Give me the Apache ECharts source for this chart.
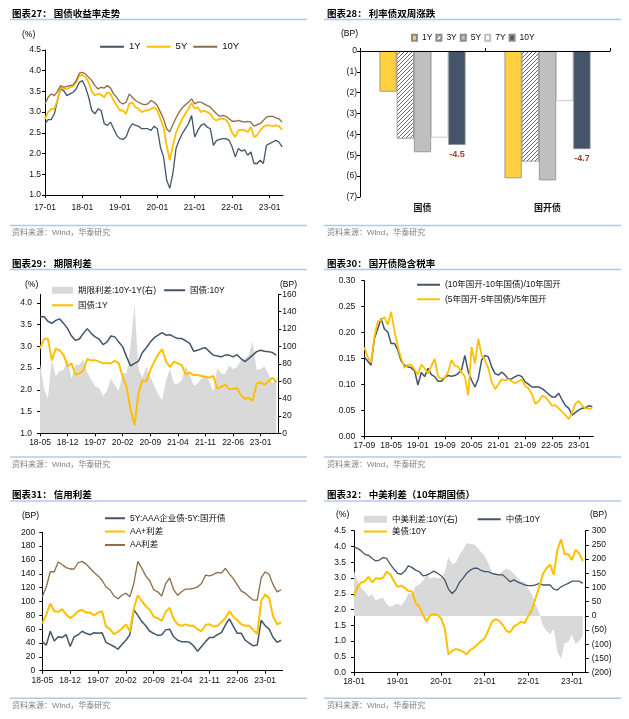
<!DOCTYPE html>
<html><head><meta charset="utf-8">
<script src="https://cdn.jsdelivr.net/npm/echarts@6/dist/echarts.min.js"></script>
<style>html,body{margin:0;padding:0;background:#fff}#c{width:629px;height:719px}</style>
</head><body><div id="c"></div>
<script>
// ---------- Panel 27: 国债收益率走势 (monthly from 2017-01) ----------
const p1XLabels = ['17-01','18-01','19-01','20-01','21-01','22-01','23-01'];
const p1_1Y = [2.72,2.82,2.82,2.96,3.28,3.56,3.52,3.40,3.44,3.48,
3.56,3.72,3.76,3.60,3.36,3.04,2.96,3.08,3.04,2.72,
2.68,2.76,2.60,2.44,2.36,2.34,2.40,2.60,2.72,2.68,
2.66,2.60,2.60,2.60,2.56,2.66,2.60,2.16,1.92,1.36,
1.16,1.52,2.12,2.32,2.48,2.60,2.72,2.92,2.40,2.56,
2.68,2.72,2.64,2.60,2.20,2.32,2.34,2.36,2.36,2.32,
2.16,1.92,2.12,2.06,2.09,1.96,2.04,1.76,1.76,1.84,
1.76,2.20,2.24,2.28,2.32,2.28,2.16];
const p1_5Y = [2.84,3.00,3.08,3.08,3.30,3.60,3.56,3.56,3.60,3.62,
3.72,3.88,3.90,3.84,3.72,3.50,3.40,3.44,3.42,3.36,
3.48,3.44,3.28,3.16,3.04,3.04,2.96,3.20,3.24,3.12,
3.08,3.00,3.04,3.04,3.08,3.12,3.04,2.84,2.64,2.20,
1.84,2.20,2.50,2.68,2.84,2.96,3.08,3.22,3.08,3.12,
3.00,3.04,3.00,2.96,2.84,2.80,2.84,2.84,2.82,2.70,
2.50,2.40,2.56,2.58,2.56,2.52,2.64,2.40,2.44,2.56,
2.64,2.68,2.68,2.66,2.68,2.66,2.58];
const p1_10Y = [3.20,3.36,3.44,3.40,3.50,3.64,3.60,3.62,3.64,3.66,
3.76,3.94,3.96,3.92,3.84,3.76,3.64,3.56,3.60,3.58,
3.64,3.58,3.44,3.36,3.24,3.20,3.24,3.44,3.36,3.28,
3.24,3.20,3.18,3.20,3.28,3.24,3.16,3.00,2.84,2.60,
2.52,2.70,2.86,3.00,3.10,3.18,3.24,3.32,3.20,3.24,
3.24,3.20,3.16,3.12,3.04,2.96,2.90,2.92,2.90,2.84,
2.78,2.78,2.80,2.78,2.76,2.78,2.76,2.66,2.70,2.72,
2.80,2.88,2.90,2.90,2.86,2.84,2.76];

// ---------- Panel 28: 利率债双周涨跌 ----------
const p2Cats = ['国债','国开债'];
const p2_1Y = [-1.95,-6.1];
const p2_3Y = [-4.2,-5.3];
const p2_5Y = [-4.85,-6.2];
const p2_7Y = [-4.15,-2.4];
const p2_10Y = [-4.5,-4.7];

// ---------- Panel 29: 期限利差 (monthly from 2018-05) ----------
const p3XLabels = ['18-05','18-12','19-07','20-02','20-09','21-04','21-11','22-06','23-01'];
const p3_10Y = [3.68,3.69,3.58,3.53,3.60,3.63,3.53,3.41,3.24,3.14,
3.17,3.30,3.41,3.30,3.22,3.17,3.04,3.10,3.24,3.22,
3.10,2.99,2.76,2.55,2.61,2.66,2.86,2.97,3.10,3.20,
3.26,3.32,3.26,3.27,3.22,3.18,3.18,3.13,3.07,2.89,
2.91,2.95,2.97,2.88,2.80,2.78,2.76,2.80,2.80,2.76,
2.81,2.72,2.65,2.72,2.80,2.88,2.91,2.89,2.88,2.86,2.80];
const p3_1Y = [2.95,3.17,3.18,2.68,2.95,2.91,2.80,2.55,2.61,2.35,
2.38,2.45,2.71,2.68,2.68,2.65,2.61,2.61,2.61,2.67,
2.61,2.30,2.07,1.54,1.19,1.92,2.22,2.20,2.45,2.65,
2.81,2.94,2.65,2.53,2.65,2.61,2.57,2.35,2.40,2.34,
2.34,2.32,2.30,2.28,2.32,2.03,2.07,2.12,2.02,2.02,
2.05,1.88,1.79,1.82,1.74,2.15,2.17,2.12,2.20,2.28,2.17];
const p3_spread = [80,52,40,85,65,72,73,86,63,79,
79,85,70,62,54,52,43,49,63,55,
49,69,69,101,148,74,64,77,65,55,
45,38,61,74,57,57,61,78,67,55,
57,63,67,60,48,75,69,68,78,74,
76,84,86,90,106,73,74,77,68,58,63];

// ---------- Panel 30: 国开债隐含税率 (monthly from 2017-09) ----------
const p4XLabels = ['17-09','18-05','19-01','19-09','20-05','21-01','21-09','22-05','23-01'];
const p4_10 = [0.153,0.145,0.137,0.188,0.207,0.227,0.207,0.201,0.179,0.179,
0.166,0.145,0.137,0.134,0.132,0.126,0.099,0.123,0.115,0.131,
0.119,0.115,0.106,0.106,0.113,0.117,0.116,0.117,0.121,0.128,
0.156,0.124,0.108,0.095,0.111,0.147,0.156,0.153,0.134,0.121,
0.118,0.124,0.118,0.110,0.111,0.115,0.118,0.115,0.105,0.100,
0.095,0.095,0.095,0.092,0.087,0.081,0.076,0.076,0.083,0.070,
0.059,0.054,0.041,0.046,0.051,0.054,0.055,0.059,0.057];
const p4_5 = [0.172,0.153,0.142,0.192,0.221,0.224,0.230,0.215,0.240,0.204,
0.172,0.150,0.132,0.138,0.138,0.129,0.119,0.138,0.131,0.121,
0.136,0.149,0.115,0.111,0.113,0.124,0.147,0.136,0.134,0.124,
0.115,0.079,0.172,0.140,0.188,0.156,0.147,0.131,0.105,0.091,
0.100,0.110,0.108,0.110,0.106,0.102,0.106,0.110,0.097,0.092,
0.081,0.063,0.067,0.078,0.076,0.068,0.059,0.060,0.054,0.047,
0.041,0.033,0.047,0.063,0.068,0.059,0.054,0.053,0.054];

// ---------- Panel 31: 信用利差 (monthly from 2018-05) ----------
const p5XLabels = ['18-05','18-12','19-07','20-02','20-09','21-04','21-11','22-06','23-01'];
const p5_AAA = [42,37,57,43,49,48,52,35,49,52,
57,54,52,55,54,55,41,38,35,31,
38,44,52,88,80,71,65,57,54,51,
52,59,60,49,44,42,42,41,36,28,
35,42,48,48,52,55,66,75,64,54,
54,44,40,36,37,73,65,60,48,41,44];
const p5_AAp = [68,81,97,86,85,89,81,76,80,86,
88,84,84,80,84,86,64,60,53,56,
61,67,57,90,109,101,93,88,78,76,
72,85,91,75,67,65,67,65,65,60,
57,66,67,64,65,70,76,86,78,73,
67,65,65,59,53,101,110,105,78,67,70];
const p5_AA = [107,121,143,143,157,153,149,147,147,156,
158,154,148,142,137,131,121,117,108,104,
109,112,107,126,158,148,137,130,117,114,
108,126,134,117,109,114,118,118,119,121,
126,138,137,139,142,141,148,140,133,124,
115,112,107,102,102,134,143,139,124,114,117];

// ---------- Panel 32: 中美利差 (monthly from 2018-01) ----------
const p6XLabels = ['18-01','19-01','20-01','21-01','22-01','23-01'];
const p6_CN = [3.99,3.94,3.86,3.75,3.72,3.62,3.54,3.57,3.65,3.62,
3.43,3.28,3.15,3.12,3.22,3.39,3.33,3.25,3.20,3.07,
3.09,3.15,3.22,3.15,3.07,2.94,2.65,2.51,2.62,2.86,
2.99,3.15,3.25,3.31,3.31,3.24,3.20,3.20,3.15,3.12,
3.10,3.10,2.99,2.88,2.94,2.88,2.83,2.78,2.76,2.76,
2.78,2.83,2.78,2.78,2.78,2.65,2.62,2.72,2.78,2.83,
2.90,2.90,2.90,2.83];
const p6_US = [2.41,2.72,2.86,2.90,3.04,2.86,2.99,2.97,3.01,3.20,
3.12,2.90,2.72,2.76,2.69,2.59,2.57,2.20,2.09,1.83,
1.62,1.83,1.85,1.83,1.72,1.40,0.58,0.69,0.75,0.72,
0.67,0.58,0.72,0.79,0.90,1.00,1.09,1.35,1.62,1.70,
1.64,1.51,1.32,1.28,1.46,1.53,1.62,1.57,1.81,1.99,
2.36,2.72,3.12,3.31,3.43,3.10,3.89,4.23,3.75,3.75,
3.57,3.89,3.78,3.54];
const p6_spread = [158,122,100,85,68,76,55,60,64,42,
31,38,43,36,53,80,76,105,111,124,
147,132,137,132,135,154,207,182,187,214,
232,257,253,252,241,224,211,185,153,142,
146,159,167,160,148,135,121,121,95,77,
42,11,-34,-53,-65,-45,-127,-151,-97,-92,
-67,-99,-88,-71];

// ---------- styling helpers ----------
const FONT = 'Liberation Sans, Arial, "Noto Sans CJK SC", sans-serif';
const CJK = '"Noto Sans CJK SC", sans-serif';
const NAVY = '#44546A', GOLD = '#FFC000', BROWN = '#8D6B48', GRAY = '#D9D9D9';
const pairs = a => a.map((v, i) => [i, v]);
const LBL = {fontSize: 8.5, color: '#111', fontFamily: FONT};

function xTime(gi, max, step, labels, margin) {
  const vals = labels.map((_, i) => i * step);
  return {type: 'value', gridIndex: gi, min: 0, max: max,
    axisLine: {show: true, onZero: false, lineStyle: {color: '#000', width: 1}},
    axisTick: {show: true, length: 3, customValues: vals, lineStyle: {color: '#000'}},
    axisLabel: Object.assign({}, LBL, {margin: margin, customValues: vals,
      formatter: v => labels[Math.round(v / step)]}),
    splitLine: {show: false}};
}
function yVal(gi, min, max, interval, fmt, margin, pos, custom) {
  const a = {type: 'value', gridIndex: gi, min: min, max: max, position: pos || 'left',
    axisLine: {show: true, onZero: false, lineStyle: {color: '#000', width: 1}},
    axisTick: {show: true, length: 3, lineStyle: {color: '#000'}},
    axisLabel: Object.assign({}, LBL, {margin: margin, formatter: fmt}),
    splitLine: {show: false}};
  if (custom) { a.axisTick.customValues = custom; a.axisLabel.customValues = custom; }
  else a.interval = interval;
  return a;
}
function line(name, data, xi, yi, color, w, z) {
  return {name: name, type: 'line', xAxisIndex: xi, yAxisIndex: yi, data: pairs(data),
    symbol: 'none', showSymbol: false, color: color, itemStyle: {color: color},
    lineStyle: {color: color, width: w}, z: z || 3, silent: true};
}
function area(name, data, xi, yi) {
  return {name: name, type: 'line', xAxisIndex: xi, yAxisIndex: yi, data: pairs(data),
    symbol: 'none', showSymbol: false, color: GRAY, itemStyle: {color: GRAY},
    lineStyle: {width: 0, color: GRAY}, areaStyle: {color: GRAY, opacity: 1}, z: 1, silent: true};
}

// hatch pattern for 3Y bar
const hc = document.createElement('canvas'); hc.width = 4; hc.height = 4;
const hg = hc.getContext('2d');
hg.fillStyle = '#fff'; hg.fillRect(0, 0, 4, 4);
hg.strokeStyle = '#555'; hg.lineWidth = 0.9; hg.beginPath();
hg.moveTo(0, 4); hg.lineTo(4, 0); hg.moveTo(-1, 1); hg.lineTo(1, -1); hg.moveTo(3, 5); hg.lineTo(5, 3);
hg.stroke();
const HATCH = {image: hc, repeat: 'repeat'};

const LINE_ICON = w => 'path://M0,0H' + w + 'V2H0Z';
function legend(left, top, items, itemWidth, itemGap, fontSize) {
  return {left: left, top: top, padding: 0, itemWidth: itemWidth, itemHeight: 7, itemGap: itemGap,
    selectedMode: false, data: items, itemStyle: {borderWidth: 0},
    textStyle: {fontSize: fontSize || 8.5, color: '#111', fontFamily: FONT, padding: [1, 0, 0, 0]}};
}

const BLUE_LINE = '#B4C7E7';
function hline(x1, x2, y) { return {type: 'line', shape: {x1: x1, y1: y, x2: x2, y2: y}, style: {stroke: BLUE_LINE, lineWidth: 1.5}, silent: true}; }
function txt(x, y, t, font, fill, align) {
  return {type: 'text', x: x, y: y, silent: true,
    style: {text: t, font: font, fill: fill || '#000', align: align || 'left', verticalAlign: 'middle'}};
}
const TF = 'bold 9.5px ' + CJK;
const SF = '8px ' + FONT;
const UF = '8.5px ' + FONT;
const SRC = '资料来源：Wind，华泰研究';

const chart = echarts.init(document.getElementById('c'), null, {renderer: 'canvas', width: 629, height: 719});
const option = {
  animation: false,
  backgroundColor: '#fff',
  grid: [
    {left: 45, top: 50, width: 238, height: 145},
    {left: 360, top: 51, width: 250, height: 146},
    {left: 40, top: 294.3, width: 238.3, height: 139},
    {left: 364.3, top: 280.7, width: 229, height: 155.6},
    {left: 42.3, top: 532.3, width: 240.4, height: 138.4},
    {left: 354, top: 530.7, width: 231.7, height: 142}
  ],
  xAxis: [
    xTime(0, 76.3, 12, p1XLabels, 8),
    {type: 'category', gridIndex: 1, data: p2Cats, position: 'bottom',
      axisLine: {show: false}, axisTick: {show: false},
      axisLabel: {fontSize: 9, fontWeight: 'bold', color: '#111', fontFamily: CJK, margin: 6}},
    {type: 'category', gridIndex: 1, data: p2Cats, position: 'top', z: 5,
      axisLine: {show: true, onZero: false, lineStyle: {color: '#000'}},
      axisTick: {show: true, length: 3, lineStyle: {color: '#000'}}, axisLabel: {show: false}},
    xTime(2, 60.5, 7, p3XLabels, 5),
    xTime(3, 68.3, 8, p4XLabels, 5),
    xTime(4, 60.4, 7, p5XLabels, 6),
    xTime(5, 63.8, 12, p6XLabels, 5)
  ],
  yAxis: [
    yVal(0, 1, 4.5, 0.5, v => v.toFixed(1), 4),
    yVal(1, -7, 0, 1, v => v === 0 ? '0' : '(' + (-v) + ')', 3),
    yVal(2, 1, 4.2, null, v => v.toFixed(1), 8, 'left', [1, 1.5, 2, 2.5, 3, 3.5, 4]),
    yVal(2, 0, 160, 20, v => String(v), 4, 'right'),
    yVal(3, 0, 0.3, 0.05, v => v.toFixed(2), 9),
    yVal(4, 0, 200, 20, v => String(v), 7),
    yVal(5, 0, 4.5, 0.5, v => v.toFixed(1), 8),
    yVal(5, -200, 300, 50, v => v < 0 ? '(' + (-v) + ')' : String(v), 6, 'right')
  ],
  legend: [
    legend(100, 42, [{name: '1Y', icon: LINE_ICON(24)}, {name: '5Y', icon: LINE_ICON(24)}, {name: '10Y', icon: LINE_ICON(24)}], 24, 6, 9.5),
    Object.assign(legend(411, 33.5, [{name: 'bar 1Y', icon: 'rect'}, {name: 'bar 3Y', icon: 'rect'}, {name: 'bar 5Y', icon: 'rect'}, {name: 'bar 7Y', icon: 'rect'}, {name: 'bar 10Y', icon: 'rect'}], 5, 3, 8.5),
      {itemHeight: 6, itemStyle: {}, formatter: n => n.replace('bar ', '')}),
    legend(52, 286, [{name: '期限利差:10Y-1Y(右)', icon: 'rect'}, {name: '国债:10Y', icon: LINE_ICON(21)}], 21, 8),
    legend(52, 301, [{name: '国债:1Y', icon: LINE_ICON(21)}], 21, 8),
    legend(417, 280.5, [{name: '(10年国开-10年国债)/10年国开', icon: LINE_ICON(23)}], 23, 8),
    legend(417, 295, [{name: '(5年国开-5年国债)/5年国开', icon: LINE_ICON(23)}], 23, 8),
    legend(105, 514, [{name: '5Y:AAA企业债-5Y:国开债', icon: LINE_ICON(20)}], 20, 8),
    legend(105, 527.3, [{name: 'AA+利差', icon: LINE_ICON(20)}], 20, 8),
    legend(105, 540.7, [{name: 'AA利差', icon: LINE_ICON(20)}], 20, 8),
    legend(364, 515, [{name: '中美利差:10Y(右)', icon: 'rect'}, {name: '中债:10Y', icon: LINE_ICON(23)}], 23, 20),
    legend(364, 527.3, [{name: '美债:10Y', icon: LINE_ICON(23)}], 23, 8)
  ],
  series: [
    line('1Y', p1_1Y, 0, 0, NAVY, 1.3),
    line('5Y', p1_5Y, 0, 0, GOLD, 1.8),
    line('10Y', p1_10Y, 0, 0, BROWN, 1.3),

    {name: 'bar 1Y', type: 'bar', xAxisIndex: 1, yAxisIndex: 1, data: p2_1Y, barWidth: 17.2, barGap: '0%',
      itemStyle: {color: '#FFD040', borderColor: '#8C8C8C', borderWidth: 0.8}, silent: true},
    {name: 'bar 3Y', type: 'bar', xAxisIndex: 1, yAxisIndex: 1, data: p2_3Y, barWidth: 17.2, barGap: '0%',
      itemStyle: {color: HATCH, borderColor: '#8C8C8C', borderWidth: 0.8}, silent: true},
    {name: 'bar 5Y', type: 'bar', xAxisIndex: 1, yAxisIndex: 1, data: p2_5Y, barWidth: 17.2, barGap: '0%',
      itemStyle: {color: '#BFBFBF', borderColor: '#8C8C8C', borderWidth: 0.8}, silent: true},
    {name: 'bar 7Y', type: 'bar', xAxisIndex: 1, yAxisIndex: 1, data: p2_7Y, barWidth: 17.2, barGap: '0%',
      itemStyle: {color: '#FFFFFF', borderColor: '#BFBFBF', borderWidth: 0.8}, silent: true},
    {name: 'bar 10Y', type: 'bar', xAxisIndex: 1, yAxisIndex: 1, data: p2_10Y, barWidth: 17.2, barGap: '0%',
      itemStyle: {color: NAVY, borderColor: '#8C8C8C', borderWidth: 0.8}, silent: true,
      label: {show: true, position: 'bottom', distance: 5, color: '#A8401A', fontWeight: 'bold',
        fontSize: 9, fontFamily: FONT, formatter: p => p.value.toFixed(1)}},

    area('期限利差:10Y-1Y(右)', p3_spread, 3, 3),
    line('国债:10Y', p3_10Y, 3, 2, NAVY, 1.5),
    line('国债:1Y', p3_1Y, 3, 2, GOLD, 2),

    line('(10年国开-10年国债)/10年国开', p4_10, 4, 4, NAVY, 1.5),
    line('(5年国开-5年国债)/5年国开', p4_5, 4, 4, GOLD, 1.8),

    line('5Y:AAA企业债-5Y:国开债', p5_AAA, 5, 5, NAVY, 1.5),
    line('AA+利差', p5_AAp, 5, 5, GOLD, 2),
    line('AA利差', p5_AA, 5, 5, BROWN, 1.3),

    area('中美利差:10Y(右)', p6_spread, 6, 7),
    line('中债:10Y', p6_CN, 6, 6, NAVY, 1.3),
    line('美债:10Y', p6_US, 6, 6, GOLD, 2)
  ],
  graphic: [
    txt(12, 13, '图表27： 国债收益率走势', TF), hline(10, 307, 19.5),
    txt(327, 13, '图表28： 利率债双周涨跌', TF), hline(324, 621, 19.5),
    txt(12, 263, '图表29： 期限利差', TF), hline(10, 307, 269.5),
    txt(327, 263, '图表30： 国开债隐含税率', TF), hline(324, 621, 269.5),
    txt(12, 494.3, '图表31： 信用利差', TF), hline(10, 307, 501),
    txt(327, 494.3, '图表32： 中美利差（10年期国债）', TF), hline(324, 621, 501),

    hline(10, 307, 225.5), txt(12, 232.3, SRC, SF, '#7F7F7F'),
    hline(324, 621, 225.5), txt(327, 232.3, SRC, SF, '#7F7F7F'),
    hline(10, 307, 457), txt(12, 464.3, SRC, SF, '#7F7F7F'),
    hline(324, 621, 457), txt(327, 464.3, SRC, SF, '#7F7F7F'),
    hline(10, 307, 698.3), txt(12, 705.7, SRC, SF, '#7F7F7F'),
    hline(324, 621, 698.3), txt(327, 705.7, SRC, SF, '#7F7F7F'),

    txt(22, 35, '(%)', UF),
    txt(341, 33.3, '(BP)', UF),
    txt(25, 284.3, '(%)', UF),
    txt(280, 284.3, '(BP)', UF),
    txt(22, 515.7, '(BP)', UF),
    txt(336, 514.3, '(%)', UF),
    txt(590, 514.3, '(BP)', UF)
  ]
};
chart.setOption(option);
</script>
</body></html>
